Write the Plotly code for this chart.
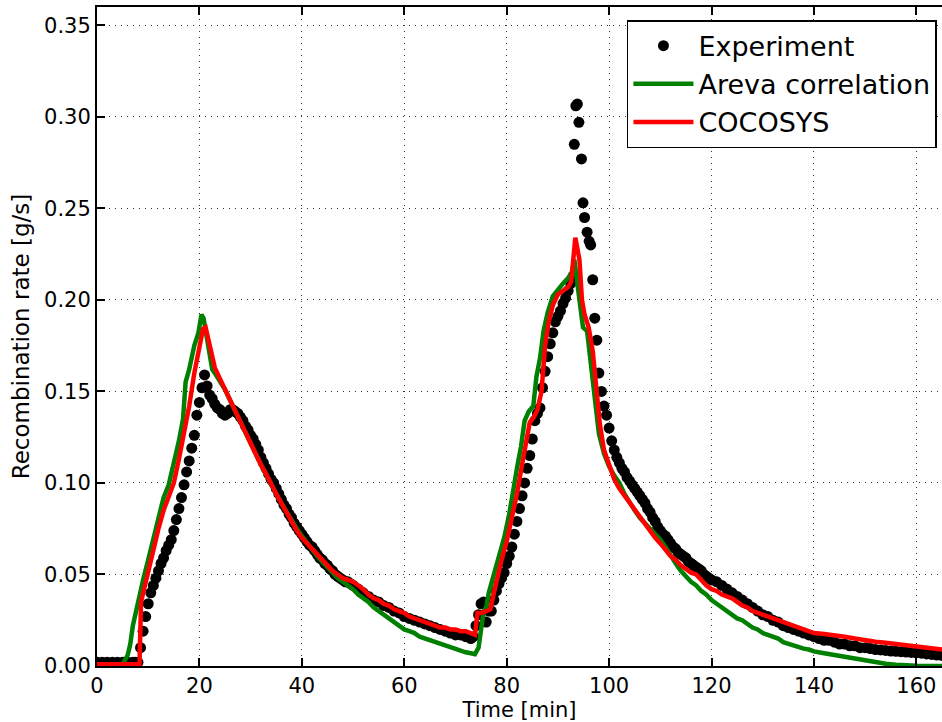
import plotly.graph_objects as go

# Measured recombination rate (experiment)
exp_time = [0, 1, 2, 3, 4, 5, 6, 7, 7.5, 8,
            8.5, 9, 9.5, 10, 10.5, 11, 11.5, 12, 12.5, 13, 13.5, 14, 14.5, 15,
            15.5, 16, 16.5, 17, 17.5, 18, 18.5, 19, 19.5, 20, 20.5, 21, 21.5, 22,
            22.5, 23, 23.5, 24, 24.5, 25, 25.5, 26, 26.5, 27, 27.5, 28, 28.5, 29,
            29.5, 30, 30.5, 31, 31.5, 32, 32.5, 33, 33.5, 34, 34.5, 35, 35.5, 36,
            36.5, 37, 37.5, 38, 38.5, 39, 39.5, 40, 40.5, 41, 41.5, 42, 42.5, 43,
            43.5, 44, 44.5, 45, 45.5, 46, 46.5, 47, 47.5, 48, 48.5, 49, 49.5, 50,
            51, 52, 53, 54, 55, 56, 57, 58, 59, 60, 61, 62, 63, 64, 65, 66, 67,
            68, 69, 70, 71, 72, 73, 73.5, 74, 74.5, 75, 75.5, 76, 76.5, 77, 77.5,
            78, 78.5, 79, 79.5, 80, 80.5, 81, 81.5, 82, 82.5, 83, 83.5, 84, 84.5,
            85, 85.5, 86, 86.5, 87, 87.5, 88, 88.5, 89, 89.5, 90, 90.5, 91, 91.5,
            92, 92.5, 93, 93.2, 93.5, 93.8, 94.1, 94.6, 94.9, 95.2, 95.7, 96.1,
            96.4, 96.8, 97.2, 97.6, 98, 98.5, 99, 99.5, 100, 100.5, 101, 101.5,
            102, 102.5, 103, 103.5, 104, 104.5, 105, 105.5, 106, 106.5, 107,
            107.5, 108, 108.5, 109, 109.5, 110, 110.5, 111, 111.5, 112, 112.5,
            113, 113.5, 114, 114.5, 115, 115.5, 116, 116.5, 117, 117.5, 118,
            118.5, 119, 119.5, 120, 121, 122, 123, 124, 125, 126, 127, 128, 129,
            130, 131, 132, 133, 134, 135, 136, 137, 138, 139, 140, 141, 142, 143,
            144, 145, 146, 147, 148, 149, 150, 151, 152, 153, 154, 155, 156, 157,
            158, 159, 160, 161, 162, 163, 164, 165]
exp_rate = [0.002, 0.002, 0.002, 0.002, 0.002, 0.002, 0.002, 0.002, 0.002, 0.002,
            0.010, 0.019, 0.027, 0.034, 0.040, 0.044, 0.048, 0.052, 0.056, 0.059,
            0.063, 0.066, 0.069, 0.074, 0.080, 0.086, 0.092, 0.099, 0.106, 0.112,
            0.119, 0.126, 0.137, 0.144, 0.152, 0.159, 0.153, 0.148, 0.146, 0.143,
            0.141, 0.140, 0.138, 0.137, 0.138, 0.140, 0.140, 0.139, 0.138, 0.136,
            0.134, 0.131, 0.129, 0.126, 0.124, 0.121, 0.118, 0.114, 0.111, 0.108,
            0.105, 0.102, 0.100, 0.097, 0.094, 0.091, 0.088, 0.086, 0.083, 0.081,
            0.078, 0.076, 0.074, 0.072, 0.070, 0.068, 0.066, 0.065, 0.063, 0.061,
            0.059, 0.058, 0.056, 0.055, 0.053, 0.052, 0.050, 0.049, 0.048, 0.047,
            0.046, 0.046, 0.045, 0.044,
            0.042, 0.040, 0.038, 0.036, 0.035, 0.033, 0.032, 0.030, 0.029, 0.027,
            0.026, 0.025, 0.024, 0.023, 0.022, 0.021, 0.020, 0.019, 0.018, 0.017,
            0.017, 0.016, 0.015, 0.016, 0.022, 0.028, 0.034, 0.035, 0.024, 0.030,
            0.030, 0.036, 0.041, 0.045, 0.048, 0.051, 0.056, 0.060, 0.065, 0.072,
            0.079, 0.086, 0.093, 0.100, 0.108, 0.115, 0.124, 0.134, 0.138, 0.141,
            0.152, 0.161, 0.169, 0.176, 0.182, 0.188, 0.191, 0.194, 0.198, 0.201,
            0.205, 0.209, 0.213, 0.285, 0.306, 0.307, 0.297, 0.277, 0.253, 0.245,
            0.237, 0.232, 0.230, 0.211, 0.190, 0.178, 0.160, 0.150, 0.142, 0.137,
            0.130, 0.123, 0.118, 0.114, 0.111, 0.108, 0.106, 0.103, 0.101, 0.099,
            0.097, 0.095, 0.093, 0.091, 0.089, 0.086, 0.084, 0.081, 0.079, 0.076,
            0.074, 0.072, 0.071, 0.069, 0.067, 0.065, 0.064, 0.062, 0.061, 0.060,
            0.059, 0.057, 0.056, 0.055, 0.054, 0.053, 0.052, 0.050, 0.049, 0.048,
            0.047, 0.046, 0.044, 0.042, 0.040, 0.038, 0.036, 0.034, 0.032, 0.030,
            0.028, 0.027, 0.025, 0.024, 0.022, 0.021, 0.020, 0.019, 0.018, 0.017,
            0.016, 0.015, 0.014, 0.014, 0.013, 0.012, 0.012, 0.011, 0.011, 0.010,
            0.010, 0.0095, 0.009, 0.0088, 0.0085, 0.0082, 0.008, 0.0078, 0.0076,
            0.0074, 0.0072, 0.007, 0.0066, 0.0063, 0.006, 0.0058]

# Areva correlation
areva_time = [0, 5, 6, 6.5, 7, 7.5, 8, 9, 10, 11, 12, 13, 14, 15, 16,
              16.8, 17.3, 18, 19, 19.8, 20.4, 20.8, 21.4, 22, 22.5, 23, 24, 25,
              26, 27, 28, 29, 30, 31, 32, 33, 34, 35, 36, 37, 38, 39, 40, 41, 42,
              43, 44, 45, 46, 47, 48, 49, 50, 51, 52, 53, 54, 55, 56, 57, 58, 59,
              60, 61, 62, 63, 64, 65, 66, 67, 68, 69, 70, 71, 72, 73, 73.8, 74.5,
              75, 75.5, 76, 76.5, 77.5, 78.5, 79.5, 80.5, 81.3, 82, 82.8, 83.5,
              84.3, 85.2, 85.8, 86.5, 87.2, 88, 89, 90, 91, 92, 92.7, 93.2, 93.7,
              94.3, 94.9, 95.7, 96.5, 97.2, 98, 99, 100, 101, 102, 103, 104, 105,
              106, 107, 108, 109, 110, 111, 112, 113, 114, 115, 116, 117, 118,
              119, 120, 121, 122, 123, 124, 125, 126, 127, 128, 129, 130, 131,
              132, 133, 134, 135, 136, 137, 138, 139, 140, 142, 144, 146, 148,
              150, 152, 154, 156, 158, 160, 165]
areva_rate = [0.001, 0.001, 0.006, 0.012, 0.022, 0.029, 0.036, 0.047,
              0.058, 0.070, 0.081, 0.092, 0.099, 0.110, 0.123, 0.135, 0.155,
              0.162, 0.175, 0.182, 0.192, 0.190, 0.180, 0.170, 0.162, 0.160,
              0.156, 0.151, 0.145, 0.139, 0.133, 0.127, 0.121, 0.116, 0.110,
              0.105, 0.099, 0.094, 0.089, 0.084, 0.079, 0.075, 0.071, 0.067,
              0.064, 0.060, 0.057, 0.054, 0.051, 0.048, 0.046, 0.044, 0.042,
              0.039, 0.037, 0.035, 0.032, 0.030, 0.028, 0.026, 0.024, 0.022,
              0.020, 0.019, 0.018, 0.016, 0.015, 0.014, 0.013, 0.012, 0.011,
              0.010, 0.009, 0.008, 0.0075, 0.007, 0.0065, 0.010, 0.020, 0.030,
              0.032, 0.040, 0.050, 0.060, 0.070, 0.083, 0.098, 0.108, 0.120,
              0.134, 0.139, 0.142, 0.158, 0.168, 0.183, 0.193, 0.202, 0.206,
              0.209, 0.212, 0.215, 0.222, 0.212, 0.200, 0.185, 0.183, 0.165,
              0.145, 0.127, 0.116, 0.109, 0.104, 0.100, 0.094, 0.089, 0.085,
              0.081, 0.078, 0.075, 0.072, 0.069, 0.065, 0.060, 0.056, 0.052,
              0.049, 0.046, 0.044, 0.041, 0.039, 0.036, 0.034, 0.032, 0.030,
              0.028, 0.026, 0.025, 0.023, 0.021, 0.020, 0.018, 0.017, 0.016,
              0.015, 0.013, 0.012, 0.011, 0.010, 0.0095, 0.009, 0.008, 0.007,
              0.006, 0.0048, 0.0038, 0.003, 0.002, 0.0012, 0.0007, 0.0004,
              0.0002, 0.0]

# COCOSYS simulation
cocosys_time = [0, 8.3, 8.6, 9, 10, 11, 12, 13, 14, 15, 16, 17, 18, 19, 20, 20.7,
                21.2, 21.8, 22.3, 23, 24, 25, 26, 27, 28, 29, 30, 31, 32, 33, 34,
                35, 36, 37, 38, 39, 40, 41, 42, 43, 44, 45, 46, 47, 48, 49, 50,
                51, 52, 53, 54, 55, 56, 57, 58, 59, 60, 61, 62, 63, 64, 65, 66,
                67, 68, 69, 70, 71, 72, 73, 73.8, 74.3, 75, 76, 76.8, 77.5, 78,
                79, 80, 81, 82, 83, 84, 84.5, 85.3, 86, 86.8, 87.5, 88.2, 89, 90,
                91, 92, 92.6, 93.4, 94.2, 94.7, 95.2, 96, 96.8, 97.5, 98.2, 99,
                100, 101, 102, 103, 104, 105, 106, 107, 108, 109, 110, 111, 112,
                113, 114, 115, 116, 117, 118, 119, 120, 121, 122, 123, 124, 125,
                126, 127, 128, 129, 130, 131, 132, 133, 134, 135, 136, 137, 138,
                139, 140, 142, 144, 146, 148, 150, 152, 154, 156, 158, 160, 162,
                165]
cocosys_rate = [0.001, 0.001, 0.035, 0.040, 0.052, 0.063, 0.075, 0.085, 0.093,
                0.100, 0.113, 0.127, 0.142, 0.160, 0.176, 0.184, 0.185, 0.178,
                0.170, 0.163, 0.157, 0.151, 0.145, 0.140, 0.134, 0.128, 0.122,
                0.116, 0.110, 0.105, 0.099, 0.094, 0.089, 0.084, 0.078, 0.074,
                0.070, 0.067, 0.064, 0.061, 0.058, 0.055, 0.052, 0.050, 0.048,
                0.047, 0.046, 0.044, 0.042, 0.039, 0.037, 0.036, 0.034, 0.033,
                0.031, 0.030, 0.029, 0.027, 0.026, 0.025, 0.024, 0.023, 0.022,
                0.021, 0.021, 0.020, 0.020, 0.019, 0.019, 0.018, 0.017, 0.029,
                0.029, 0.030, 0.031, 0.040, 0.047, 0.058, 0.068, 0.081, 0.094,
                0.110, 0.127, 0.133, 0.136, 0.140, 0.150, 0.175, 0.188, 0.197,
                0.203, 0.205, 0.207, 0.210, 0.234, 0.222, 0.200, 0.192, 0.185,
                0.172, 0.150, 0.132, 0.118, 0.109, 0.102, 0.097, 0.093, 0.089,
                0.085, 0.081, 0.077, 0.073, 0.070, 0.067, 0.063, 0.060, 0.058,
                0.055, 0.053, 0.051, 0.050, 0.047, 0.044, 0.042, 0.041, 0.039,
                0.038, 0.037, 0.035, 0.033, 0.032, 0.030, 0.029, 0.028, 0.027,
                0.026, 0.025, 0.024, 0.023, 0.022, 0.021, 0.020, 0.019, 0.018,
                0.0175, 0.017, 0.016, 0.015, 0.014, 0.0133, 0.0127, 0.012,
                0.0115, 0.011, 0.010, 0.009]

x_ticks = [0, 20, 40, 60, 80, 100, 120, 140, 160]
y_ticks = [0.00, 0.05, 0.10, 0.15, 0.20, 0.25, 0.30, 0.35]

FONT = "DejaVu Sans, Bitstream Vera Sans, sans-serif"

fig = go.Figure()
fig.add_trace(go.Scatter(
    x=exp_time, y=exp_rate, mode="markers", name="Experiment",
    marker=dict(color="black", size=11, line=dict(width=0)),
))
fig.add_trace(go.Scatter(
    x=areva_time, y=areva_rate, mode="lines", name="Areva correlation",
    line=dict(color="#008000", width=4.5),
))
fig.add_trace(go.Scatter(
    x=cocosys_time, y=cocosys_rate, mode="lines", name="COCOSYS",
    line=dict(color="#ff0000", width=4.5),
))

axis_common = dict(
    showline=True, linecolor="black", linewidth=2,
    ticks="inside", ticklen=8, tickwidth=1.5, tickcolor="black",
    showgrid=True, gridcolor="#333333", gridwidth=1, griddash="1px,5px",
    zeroline=False,
    tickfont=dict(family=FONT, size=21, color="black"),
)

fig.update_xaxes(
    range=[0, 165], tickvals=x_ticks, ticktext=[str(v) for v in x_ticks],
    mirror="ticks",
    title=dict(text="Time [min]", font=dict(family=FONT, size=21, color="black"),
               standoff=6),
    **axis_common,
)
fig.update_yaxes(
    range=[0, 0.36], tickvals=y_ticks, ticktext=[f"{v:.2f}" for v in y_ticks],
    title=dict(text="Recombination rate [g/s]",
               font=dict(family=FONT, size=23, color="black"), standoff=8),
    **axis_common,
)

fig.update_layout(
    width=942, height=722,
    margin=dict(l=97, r=0, t=7, b=56),
    paper_bgcolor="white", plot_bgcolor="white",
    font=dict(family=FONT, color="black"),
    legend=dict(
        x=0.994, y=0.98, xanchor="right", yanchor="top",
        bgcolor="white", bordercolor="black", borderwidth=1.5,
        font=dict(family=FONT, size=27, color="black"),
        itemwidth=60,
    ),
)

fig.write_html("out.html")
